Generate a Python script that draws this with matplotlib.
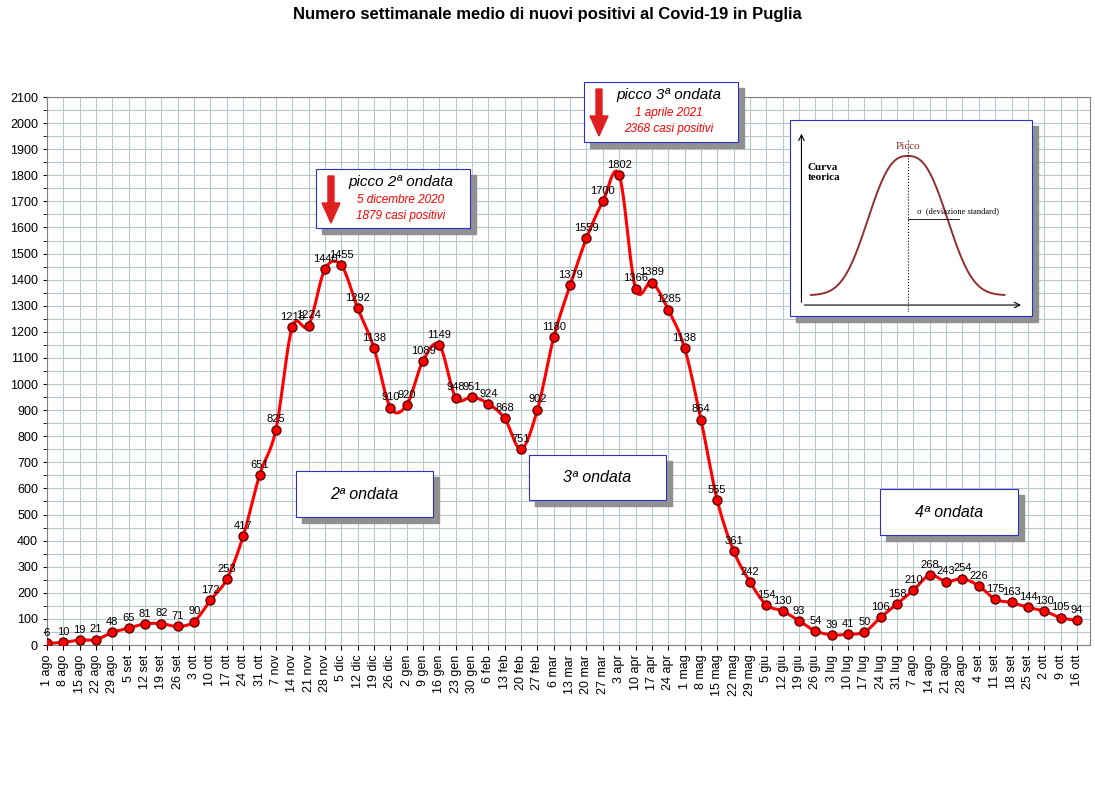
import numpy as np
import matplotlib.pyplot as plt
from matplotlib.patches import Rectangle, FancyArrow

plt.rcParams['font.family'] = ['Liberation Sans', 'DejaVu Sans']

etichette = ['1 ago', '8 ago', '15 ago', '22 ago', '29 ago', '5 set', '12 set', '19 set', '26 set',
             '3 ott', '10 ott', '17 ott', '24 ott', '31 ott', '7 nov', '14 nov', '21 nov', '28 nov',
             '5 dic', '12 dic', '19 dic', '26 dic', '2 gen', '9 gen', '16 gen', '23 gen', '30 gen',
             '6 feb', '13 feb', '20 feb', '27 feb', '6 mar', '13 mar', '20 mar', '27 mar', '3 apr',
             '10 apr', '17 apr', '24 apr', '1 mag', '8 mag', '15 mag', '22 mag', '29 mag', '5 giu',
             '12 giu', '19 giu', '26 giu', '3 lug', '10 lug', '17 lug', '24 lug', '31 lug', '7 ago',
             '14 ago', '21 ago', '28 ago', '4 set', '11 set', '18 set', '25 set', '2 ott', '9 ott', '16 ott']
valori = [6, 10, 19, 21, 48, 65, 81, 82, 71, 90, 172, 253, 417, 651, 825, 1218, 1224, 1440, 1455,
          1292, 1138, 910, 920, 1089, 1149, 948, 951, 924, 868, 751, 902, 1180, 1379, 1559, 1700,
          1802, 1366, 1389, 1285, 1138, 864, 555, 361, 242, 154, 130, 93, 54, 39, 41, 50, 106, 158,
          210, 268, 243, 254, 226, 175, 163, 144, 130, 105, 94]

x = np.arange(len(valori))
y = np.array(valori, dtype=float)

# curva smussata (Catmull-Rom) tra i punti
def smooth(x, y, n=12):
    px = np.concatenate([[2*x[0]-x[1]], x, [2*x[-1]-x[-2]]])
    py = np.concatenate([[2*y[0]-y[1]], y, [2*y[-1]-y[-2]]])
    xs, ys = [], []
    t = np.linspace(0, 1, n, endpoint=False)
    for i in range(1, len(px)-2):
        for P, out in ((px, xs), (py, ys)):
            p0, p1, p2, p3 = P[i-1], P[i], P[i+1], P[i+2]
            out.extend(0.5*((2*p1) + (-p0+p2)*t + (2*p0-5*p1+4*p2-p3)*t**2 + (-p0+3*p1-3*p2+p3)*t**3))
    xs.append(x[-1]); ys.append(y[-1])
    return np.array(xs), np.array(ys)

fig = plt.figure(figsize=(10.95, 8.05), dpi=100)
W, H = 1095, 805
ax = fig.add_axes([47/W, 1-645/H, 1043/W, 548/H])
xs, ys = smooth(x, y)
ax.plot(xs, ys, color='red', lw=2.2, zorder=3)
ax.plot(x, y, 'o', color='red', mec='#600000', ms=6.5, zorder=4)
for xi, yi in zip(x, y):
    ax.text(xi, yi+20, str(int(yi)), ha='center', va='bottom', fontsize=8, zorder=5)

ax.set_xlim(0, 63.8)
ax.set_ylim(0, 2100)
ax.set_xticks(x)
ax.set_xticklabels(etichette, rotation=90, fontsize=9)
ax.set_yticks(np.arange(0, 2101, 100))
ax.set_yticks(np.arange(50, 2100, 100), minor=True)
ax.tick_params(axis='y', labelsize=9, which='both', length=3)
ax.grid(True, which='both', color='#b8c8cc', lw=0.8)
ax.set_axisbelow(True)
for s in ax.spines.values():
    s.set_color('#808080')

fig.text(0.5, 1-15/H, 'Numero settimanale medio di nuovi positivi al Covid-19 in Puglia',
         ha='center', va='center', fontsize=12, weight='bold')

def box(x0, y0, x1, y1):
    fig.patches.append(Rectangle((x0/W+6/W, 1-y1/H-6/H), (x1-x0)/W, (y1-y0)/H,
                                 transform=fig.transFigure, color='#909090', zorder=5))
    fig.patches.append(Rectangle((x0/W, 1-y1/H), (x1-x0)/W, (y1-y0)/H, transform=fig.transFigure,
                                 facecolor='white', edgecolor='#3030c0', lw=0.8, zorder=6))

def fx(px):
    return px/W

def fy(py):
    return 1-py/H

for (x0, y0, x1, y1, t) in [(296, 471, 433, 517, '2ª ondata'), (529, 455, 666, 500, '3ª ondata'),
                            (880, 489, 1018, 535, '4ª ondata')]:
    box(x0, y0, x1, y1)
    fig.text(fx((x0+x1)/2), fy((y0+y1)/2), t, ha='center', va='center', fontsize=11.5,
             style='italic', zorder=7)

for (x0, y0, x1, y1, t, d, c) in [(316, 169, 470, 228, 'picco 2ª ondata', '5 dicembre 2020', '1879 casi positivi'),
                                  (584, 82, 738, 142, 'picco 3ª ondata', '1 aprile 2021', '2368 casi positivi')]:
    box(x0, y0, x1, y1)
    fig.text(fx(x0+85), fy(y0+13), t, ha='center', va='center', fontsize=11, style='italic', zorder=7)
    fig.text(fx(x0+85), fy(y0+31), d, ha='center', va='center', fontsize=8.5, style='italic', color='red', zorder=7)
    fig.text(fx(x0+85), fy(y0+47), c, ha='center', va='center', fontsize=8.5, style='italic', color='red', zorder=7)
    fig.patches.append(FancyArrow(fx(x0+15), fy(y0+7), 0, -47/H, width=6/W, head_width=18/W,
                                  head_length=20/H, length_includes_head=True,
                                  transform=fig.transFigure, color='#e02020', zorder=7))

# riquadro curva teorica
box(790, 120, 1032, 316)
iax = fig.add_axes([fx(795), fy(312), 232/W, 188/H], zorder=8)
iax.set_facecolor('none')
g = np.linspace(-3, 3, 200)
iax.plot(g, 0.07 + np.exp(-(np.abs(g)/1.5)**2.6), color='#903030', lw=1.4)
iax.axvline(0, ymax=0.92, color='k', ls=':', lw=0.8)
iax.plot([0, 1.6], [0.62, 0.62], color='k', lw=0.6)
iax.annotate('', xy=(-3.3, 1.25), xytext=(-3.3, 0), arrowprops=dict(arrowstyle='->', lw=0.8))
iax.annotate('', xy=(3.6, 0), xytext=(-3.3, 0), arrowprops=dict(arrowstyle='->', lw=0.8))
iax.text(0, 1.12, 'Picco', color='#903030', ha='center', fontsize=8, family='Liberation Serif')
iax.text(-3.1, 0.95, 'Curva\nteorica', fontsize=8, family='Liberation Serif', va='center', weight='bold')
iax.text(0.3, 0.66, 'σ  (deviazione standard)', fontsize=6, family='Liberation Serif')
iax.set_xlim(-3.5, 3.7)
iax.set_ylim(-0.05, 1.3)
iax.axis('off')

fig.savefig('out.png', dpi=100)
